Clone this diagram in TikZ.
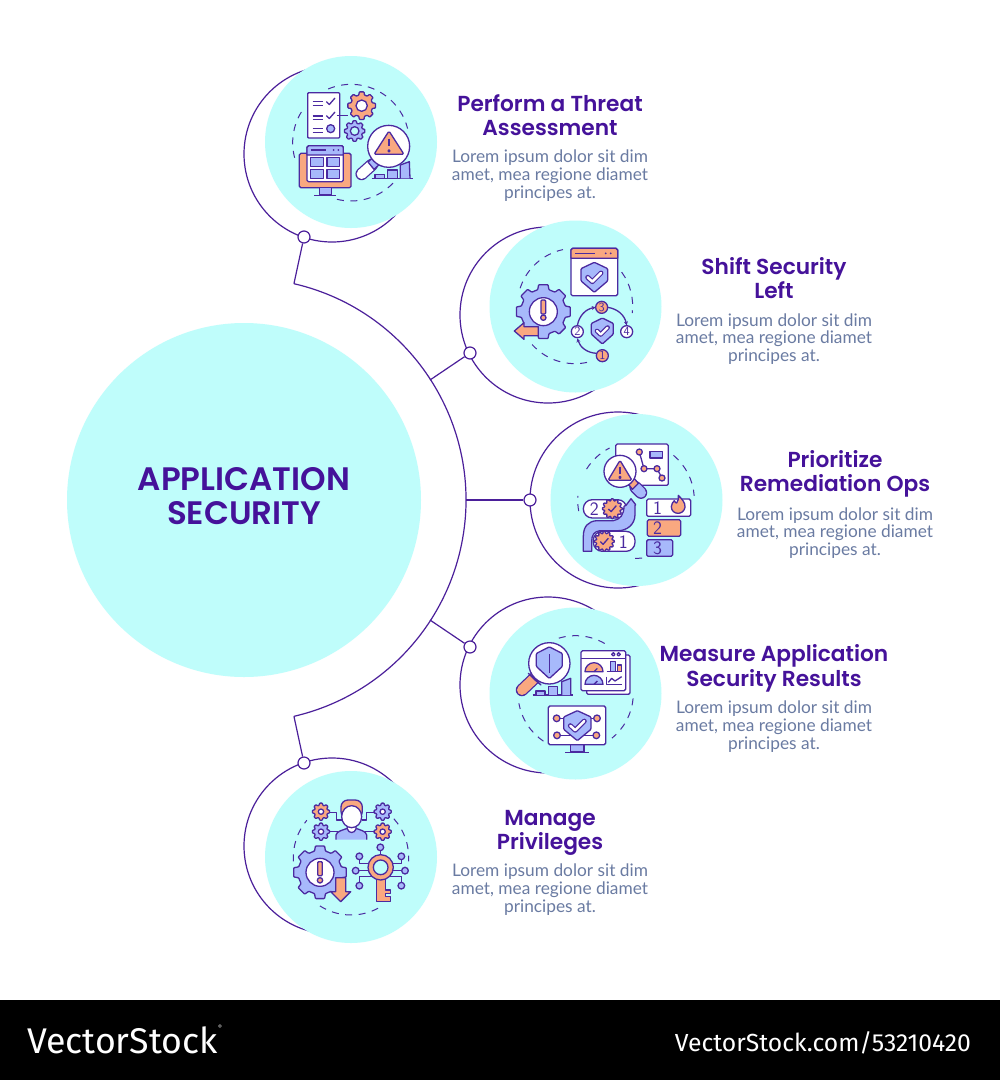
\documentclass[tikz,border=0pt]{standalone}
\usepackage{fontspec}
\usetikzlibrary{arrows.meta}
\newfontfamily\headfont{Poppins SemiBold}
\newfontfamily\bodyfont{Lato}
\newfontfamily\markfont{Fira Sans}
\definecolor{cyanbg}{HTML}{BFFDFB}
\definecolor{ink}{HTML}{4B2AA0}
\definecolor{ringc}{HTML}{4B1F9A}
\definecolor{headc}{HTML}{45129A}
\definecolor{bodyc}{HTML}{6A7BA2}
\definecolor{peri}{HTML}{A7B9FB}
\definecolor{salm}{HTML}{F9A880}
\tikzset{
  disc/.style={circle,fill=cyanbg,inner sep=0pt,minimum size=172pt},
  ringline/.style={draw=ringc,line width=1.2pt},
  dotnode/.style={circle,draw=ringc,fill=white,line width=1.2pt,inner sep=0pt,minimum size=12pt},
  headtext/.style={align=center,text=headc,font=\headfont\fontsize{21.7}{24.5}\selectfont},
  bodytext/.style={align=center,text=bodyc,font=\bodyfont\fontsize{17.3}{17.8}\selectfont},
  ol/.style={draw=ink,line width=1.3pt,line join=round},
  dashline/.style={draw=ink,line width=1pt,dash pattern=on 7pt off 6.5pt},
  digit/.style={text=ink,inner sep=0pt,font=\sffamily\fontsize{12.5}{12.5}\selectfont},
  digitb/.style={text=ink,inner sep=0pt,font=\sffamily\fontsize{19}{19}\selectfont},
}
\newcommand{\gearshape}[6]{%
  \pgfmathsetmacro\gstep{360/#5}%
  \draw[ol,fill=#6,rounded corners=.7pt,shift={(#1,#2)}] ({-.32*\gstep}:#4)
    \foreach \k in {1,...,#5}{
      -- ({(\k-1)*\gstep-.22*\gstep}:#3) -- ({(\k-1)*\gstep+.22*\gstep}:#3)
      -- ({(\k-1)*\gstep+.32*\gstep}:#4) -- ({\k*\gstep-.32*\gstep}:#4)} -- cycle;}
\newcommand{\dasharc}[5]{\draw[dashline] (#1,#2) ++(#4:#3) arc[start angle=#4,end angle=#5,radius=#3];}
\newcommand{\shieldshape}[5][peri]{%
  \draw[ol,fill=#1,rounded corners=1pt] ({#2},{#3-.5*#5}) -- ({#2+.5*#4},{#3-.29*#5}) -- ({#2+.5*#4},{#3+.12*#5})
    -- ({#2},{#3+.5*#5}) -- ({#2-.5*#4},{#3+.12*#5}) -- ({#2-.5*#4},{#3-.29*#5}) -- cycle;}
\newcommand{\chk}[4]{%
  \draw[draw=ink,line width=#4pt+2.4pt,line cap=round,line join=round] ({#1-#3},{#2}) -- ({#1-.3*#3},{#2+.65*#3}) -- ({#1+#3},{#2-.65*#3});
  \draw[draw=white,line width=#4pt,line cap=round,line join=round] ({#1-#3},{#2}) -- ({#1-.3*#3},{#2+.65*#3}) -- ({#1+#3},{#2-.65*#3});}
\newcommand{\thinchk}[3]{\draw[ol] ({#1-#3},{#2}) -- ({#1-.3*#3},{#2+.65*#3}) -- ({#1+#3},{#2-.85*#3});}
\newcommand{\exclam}[3]{%
  \draw[ol,fill=salm,rounded corners=1pt] ({#1-7},{#2-20}) rectangle ({#1+7},{#2+22});
  \draw[ol,fill=salm] (#1,{#2+#3}) circle[radius=8];}
\newcommand{\warntri}[4]{% x, top y, half width, height
  \draw[ol,fill=salm,rounded corners=1.5pt] (#1,#2) -- ({#1+#3},{#2+#4}) -- ({#1-#3},{#2+#4}) -- cycle;
  \draw[ol] (#1,{#2+.33*#4}) -- (#1,{#2+.66*#4});
  \draw[ol] (#1,{#2+.85*#4}) circle[radius=3];}
\newcommand{\tube}[5]{% x1 y1 x2 y2 fill
  \draw[draw=ink,line width=12.5pt,line cap=round] (#1,#2) -- (#3,#4);
  \draw[draw=#5,line width=10pt,line cap=round] (#1,#2) -- (#3,#4);}
\begin{document}
\begin{tikzpicture}[x=1pt,y=1pt,yscale=-1]
\useasboundingbox (0,0) rectangle (1000,1080);
\fill[white] (0,0) rectangle (1000,1080);
\fill[black] (0,1000) rectangle (1000,1080);

% big circle + big arc
\node[circle,fill=cyanbg,inner sep=0pt,minimum size=354pt] (hub) at (244,500) {};
\node[align=center,text=headc,inner sep=0pt,font=\headfont\fontsize{32.5}{34}\selectfont] (hubtext) at (244,496) {APPLICATION\\SECURITY};
\draw[ringline] (244,500) ++(-77:222) coordinate (a1) arc[start angle=-77,end angle=77,radius=222] coordinate (a5);
\coordinate (a2) at (430,380);
\coordinate (a3) at (466,500);
\coordinate (a4) at (430,620);

% rings
\draw[ringline] (332,154) circle[radius=88];
\draw[ringline] (548,315) circle[radius=88];
\draw[ringline] (618,500) circle[radius=88];
\draw[ringline] (548,685) circle[radius=88];
\draw[ringline] (332,846) circle[radius=88];

% discs
\node[disc] (d1) at (351,142) {};
\node[disc] (d2) at (575.5,306.5) {};
\node[disc] (d3) at (636.5,500) {};
\node[disc] (d4) at (575.5,693.5) {};
\node[disc] (d5) at (351,857) {};

% dots + connectors
\node[dotnode] (p1) at (304,237) {};
\node[dotnode] (p2) at (470,353) {};
\node[dotnode] (p3) at (530,500) {};
\node[dotnode] (p4) at (470,647) {};
\node[dotnode] (p5) at (304,763) {};
\draw[ringline] (a1) -- (p1);
\draw[ringline] (a2) -- (p2);
\draw[ringline] (a3) -- (p3);
\draw[ringline] (a4) -- (p4);
\draw[ringline] (a5) -- (p5);

% texts
\node[headtext] (h1) at (550,115) {Perform a Threat\\Assessment};
\node[bodytext] (b1) at (550,175.5) {Lorem ipsum dolor sit dim\\amet, mea regione diamet\\principes at.};
\node[headtext] (h2) at (774,278) {Shift Security\\Left};
\node[bodytext] (b2) at (774,339) {Lorem ipsum dolor sit dim\\amet, mea regione diamet\\principes at.};
\node[headtext] (h3) at (835,474) {Prioritize\\Remediation Ops};
\node[bodytext] (b3) at (835,533) {Lorem ipsum dolor sit dim\\amet, mea regione diamet\\principes at.};
\node[headtext] (h4) at (774,668.5) {Measure Application\\Security Results};
\node[bodytext] (b4) at (774,726.5) {Lorem ipsum dolor sit dim\\amet, mea regione diamet\\principes at.};
\node[headtext] (h5) at (550,833) {Manage\\Privileges};
\node[bodytext] (b5) at (550,889.5) {Lorem ipsum dolor sit dim\\amet, mea regione diamet\\principes at.};

% footer
\node[anchor=west,text=white,inner sep=0pt,font=\markfont\fontsize{35.7}{36}\selectfont] (m1) at (27,1040) {VectorStock};
\node[anchor=west,text=white,inner sep=0pt,font=\markfont\fontsize{6}{6}\selectfont] (m2) at (218,1027) {®};
\node[anchor=east,text=white,inner sep=0pt,font=\markfont\fontsize{24.7}{25}\selectfont] (m3) at (971,1043) {VectorStock.com/53210420};

% ---------- icon 1
\begin{scope}[shift={(240,50)},scale=1/3]
\dasharc{333}{278}{175}{165}{212}
\dasharc{333}{278}{175}{247}{346}
\dasharc{333}{278}{175}{44}{104}
\draw[ol,fill=white,rounded corners=1pt] (203,128) rectangle (299,264);
\foreach \yy in {155,167,198,208,235,247}{\draw[ol] (218,\yy) -- (250,\yy);}
\thinchk{272}{155}{13}
\thinchk{272}{197}{13}
\draw[ol,fill=peri] (272,236) circle[radius=12];
\draw[ol] (290,197) -- (325,197);
\gearshape{365}{167}{42}{33}{8}{salm}
\draw[ol,fill=white] (365,167) circle[radius=17];
\gearshape{344}{243}{31}{24}{8}{peri}
\draw[ol,fill=cyanbg] (344,243) circle[radius=13];
\draw[ol,fill=salm,rounded corners=1.5pt] (178,310) rectangle (333,413);
\draw[ol,fill=peri] (238,413) rectangle (275,435);
\draw[ol] (222,436) -- (288,436);
\draw[ol,fill=white,rounded corners=1.5pt] (201,287) rectangle (310,395);
\draw[ol,fill=peri] (201,315) -- (201,292) -- (206,287) -- (305,287) -- (310,292) -- (310,315) -- cycle;
\draw[ol] (212,300) -- (258,300);
\fill[ink] (281,300) circle[radius=3] (295,300) circle[radius=3];
\draw[ol,fill=peri] (211,323) rectangle (250,349);
\draw[ol,fill=peri] (261,323) rectangle (299,349);
\draw[ol,fill=peri] (211,358) rectangle (250,386);
\draw[ol,fill=peri] (261,358) rectangle (299,386);
\tube{365}{372}{395}{345}{white}
\draw[ol,fill=peri] (384,336) -- (404,318) -- (422,340) -- (402,358) -- cycle;
\draw[ol,fill=white] (446,289) circle[radius=63];
\warntri{447}{243}{45}{70}
\draw[ol] (395,385) -- (518,385);
\draw[ol,fill=peri] (405,385) -- (405,373) -- (433,373) -- (433,385);
\draw[ol,fill=peri] (443,385) -- (443,360) -- (472,360) -- (472,385);
\draw[ol,fill=peri] (481,385) -- (481,345) -- (508,335) -- (510,385);
\end{scope}

% ---------- icon 2
\begin{scope}[shift={(460,220)},scale=1/3]
\dasharc{345}{258}{173}{198}{258}
\dasharc{345}{258}{173}{324}{367}
\dasharc{345}{258}{173}{78}{138}
\draw[ol,fill=white,rounded corners=1.5pt] (333,85) rectangle (473,227);
\draw[ol,fill=salm] (333,115) -- (333,90) -- (338,85) -- (468,85) -- (473,90) -- (473,115) -- cycle;
\draw[ol] (345,100) -- (405,100);
\fill[ink] (437,100) circle[radius=3] (452,100) circle[radius=3];
\shieldshape{403}{172}{80}{90}
\chk{403}{172}{20}{2.5}
\gearshape{250}{275}{82}{68}{8}{peri}
\draw[ol,fill=white] (250,275) circle[radius=42];
\exclam{250}{260}{33}
\draw[ol,fill=salm] (163,333) -- (192,308) -- (192,320) -- (235,320) -- (235,347) -- (192,347) -- (192,358) -- cycle;
\draw[ol,-{Stealth[length=4pt,width=4pt]}] (410,400) to[bend right=35] (352,355);
\draw[ol,-{Stealth[length=4pt,width=4pt]}] (352,317) to[bend right=35] (407,262);
\draw[ol,-{Stealth[length=4pt,width=4pt]}] (443,262) to[bend right=35] (500,316);
\draw[ol,fill=salm] (425,262) circle[radius=18];
\draw[ol,fill=white] (352,335) circle[radius=18];
\draw[ol,fill=white] (500,335) circle[radius=18];
\draw[ol,fill=salm] (427,407) circle[radius=18];
\node[digit] (n3) at (425,262) {3};
\node[digit] (n2) at (352,335) {2};
\node[digit] (n4) at (500,335) {4};
\node[digit] (n1) at (427,407) {1};
\shieldshape{427}{333}{66}{78}
\chk{427}{333}{16}{2.2}
\end{scope}

% ---------- icon 3
\begin{scope}[shift={(525,408)},scale=1/3]
\dasharc{333}{276}{175}{169}{184}
\dasharc{333}{276}{175}{212}{243}
\dasharc{333}{276}{175}{310}{356}
\dasharc{333}{276}{175}{84}{96}
\draw[ol,fill=white,rounded corners=1.5pt] (272,108) rectangle (430,232);
\draw[ol] (343,132) -- (357,182) -- (396,182) -- (411,210);
\foreach \px/\py in {343/132,357/182,396/182,411/210}{\draw[ol,fill=salm] (\px,\py) circle[radius=9];}
\draw[ol,fill=peri] (375,130) rectangle (413,150);
\tube{332}{238}{348}{254}{peri}
\draw[ol,fill=salm] (310,228) -- (328,212) -- (340,226) -- (322,244) -- cycle;
\draw[ol,fill=white] (285,190) circle[radius=48];
\warntri{285}{157}{36}{60}
\draw[ol,fill=white,rounded corners=9pt] (175,275) rectangle (305,330);
\node[digitb] (q2) at (208,303) {2};
\gearshape{262}{302}{30}{24}{12}{salm}
\thinchk{262}{303}{12}
\draw[ol,fill=peri,line join=round] (175,430) -- (175,385) .. controls (175,355) and (190,340) .. (215,338)
  -- (265,338) .. controls (285,335) and (297,320) .. (297,295) -- (303,292) -- (318,272) -- (332,290) -- (330,292)
  -- (330,320) .. controls (330,350) and (305,368) .. (280,368) -- (225,368) .. controls (208,370) and (200,380) .. (200,400)
  -- (200,430) -- cycle;
\draw[ol,fill=white,rounded corners=9pt] (205,370) rectangle (330,430);
\node[digitb] (q1) at (295,402) {1};
\gearshape{238}{400}{30}{24}{12}{salm}
\thinchk{238}{401}{12}
\draw[ol,fill=white,rounded corners=1.5pt] (365,273) rectangle (497,325);
\node[digitb] (r1) at (398,300) {1};
\draw[ol,fill=salm] (460,262) .. controls (470,272) and (482,285) .. (480,298) .. controls (478,310) and (468,316) .. (459,316)
  .. controls (448,316) and (439,308) .. (439,296) .. controls (439,288) and (444,282) .. (448,278) .. controls (450,284) and (453,285) .. (455,285) .. controls (460,278) and (462,270) .. (460,262) -- cycle;
\draw[ol,fill=salm,rounded corners=1.5pt] (367,335) rectangle (467,385);
\node[digitb] (r2) at (398,360) {2};
\draw[ol,fill=peri,rounded corners=1.5pt] (365,395) rectangle (443,445);
\node[digitb] (r3) at (398,420) {3};
\end{scope}

% ---------- icon 4
\begin{scope}[shift={(460,595)},scale=1/3]
\dasharc{347}{295}{173}{253}{301}
\dasharc{347}{295}{173}{5}{51}
\dasharc{347}{295}{173}{124}{170}
\tube{186}{285}{225}{248}{salm}
\draw[ol,fill=salm] (205,235) -- (225,252) -- (243,270) -- (225,255) -- cycle;
\draw[ol,fill=white] (268,205) circle[radius=62];
\shieldshape{268}{203}{78}{95}
\draw[ol] (268,178) -- (268,235);
\draw[ol] (218,300) -- (338,300);
\draw[ol,fill=peri] (228,300) -- (228,288) -- (255,288) -- (255,300);
\draw[ol,fill=peri] (265,300) -- (265,275) -- (293,275) -- (293,300);
\draw[ol,fill=peri] (305,300) -- (305,260) -- (332,250) -- (332,300);
\draw[ol,fill=white,rounded corners=1.5pt] (380,180) rectangle (510,298);
\draw[ol,fill=white,rounded corners=1.5pt] (363,167) rectangle (497,287);
\draw[ol] (363,190) -- (497,190);
\draw[ol] (460,178) circle[radius=5] (476,178) circle[radius=5];
\draw[ol,fill=salm] (375,230) arc[start angle=180,end angle=360,radius=27] -- cycle;
\draw[ol,fill=peri] (375,268) arc[start angle=180,end angle=360,radius=27] -- cycle;
\draw[ol] (402,230) -- (412,220);
\draw[ol] (402,268) -- (412,258);
\draw[ol,fill=peri] (452,230) rectangle (466,200);
\draw[ol,fill=salm] (472,230) rectangle (484,210);
\draw[ol] (440,230) -- (486,230);
\draw[ol] (440,245) -- (440,268) -- (485,268);
\draw[ol] (445,262) -- (455,250) -- (465,258) -- (485,245);
\draw[ol,fill=peri] (332,449) rectangle (372,471);
\draw[ol] (316,472) -- (388,472);
\draw[ol,fill=white,rounded corners=1.5pt] (265,333) rectangle (437,449);
\draw[ol] (290,370) -- (411,370) (291,421) -- (409,421);
\foreach \px/\py in {290/370,411/370,291/421,409/421}{\draw[ol,fill=salm] (\px,\py) circle[radius=10];}
\shieldshape{352}{392}{82}{90}
\chk{352}{392}{21}{2.5}
\end{scope}

% ---------- icon 5
\begin{scope}[shift={(240,755)},scale=1/3]
\dasharc{333}{307}{173}{176}{220}
\dasharc{333}{307}{173}{318}{364}
\dasharc{333}{307}{173}{62}{123}
\draw[ol] (268,172) -- (290,172) -- (290,195) -- (305,195);
\draw[ol] (403,172) -- (380,172) -- (380,195) -- (365,195);
\draw[ol] (268,230) -- (295,230);
\draw[ol] (403,230) -- (375,230);
\draw[ol,fill=salm,rounded corners=7pt] (303,190) -- (303,135) -- (367,135) -- (367,190) -- cycle;
\draw[ol,fill=peri] (288,254) -- (288,240) .. controls (290,228) and (310,225) .. (322,220) -- (348,220) .. controls (360,225) and (378,228) .. (380,240) -- (380,254);
\draw[ol,fill=white] (322,205) -- (322,222) .. controls (326,236) and (344,236) .. (348,222) -- (348,205) -- cycle;
\draw[ol,fill=white] (335,185) ellipse[x radius=30,y radius=33];
\gearshape{243}{170}{26}{20}{8}{salm}
\draw[ol,fill=white] (243,170) circle[radius=8];
\gearshape{428}{170}{26}{20}{8}{peri}
\draw[ol,fill=white] (428,170) circle[radius=8];
\gearshape{243}{230}{26}{20}{8}{peri}
\draw[ol,fill=white] (243,230) circle[radius=8];
\gearshape{428}{230}{26}{20}{8}{salm}
\draw[ol,fill=white] (428,230) circle[radius=8];
\gearshape{240}{352}{80}{66}{8}{peri}
\draw[ol,fill=white] (240,352) circle[radius=42];
\exclam{240}{340}{36}
\draw[ol,fill=salm] (287,368) -- (317,368) -- (317,410) -- (332,410) -- (302,440) -- (272,410) -- (287,410) -- cycle;
\draw[ol] (421,287) -- (421,300);
\draw[ol] (358,314) -- (358,325) -- (395,325);
\draw[ol] (484,314) -- (484,325) -- (448,325);
\draw[ol] (347,347) -- (385,347);
\draw[ol] (495,347) -- (458,347);
\draw[ol] (358,382) -- (358,365) -- (400,365);
\draw[ol] (484,382) -- (484,365) -- (445,365);
\foreach \px/\py in {421/277,358/304,484/304,347/347,495/347,358/392,484/392}{\draw[ol,fill=peri] (\px,\py) circle[radius=10];}
\draw[ol,fill=salm] (410,368) -- (410,440) -- (452,440) -- (452,425) -- (437,425) -- (437,415) -- (452,415) -- (452,405) -- (437,405) -- (437,368) -- cycle;
\draw[ol,fill=salm,even odd rule] (422,337) circle[radius=38] (422,337) circle[radius=22];
\end{scope}
\end{tikzpicture}
\end{document}
